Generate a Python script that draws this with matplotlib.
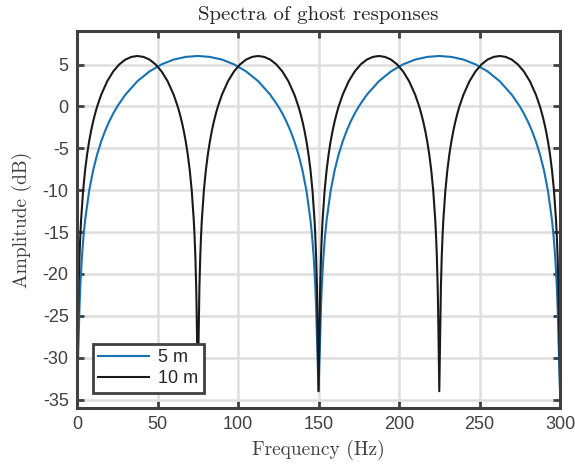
import matplotlib
matplotlib.use("Agg")
import matplotlib.pyplot as plt

# values (dB), 5 m ghost
freq_5m = [0, 1, 1.5, 2, 3, 4, 5, 7.5, 10, 12.5, 15, 17.5, 20, 22.5, 25, 30, 37.5, 45, 52.5, 60, 67.5, 75,
           82.5, 90, 97.5, 105, 112.5, 120, 125, 127.5, 130, 132.5, 135, 137.5, 140, 142.5, 145, 146, 147, 148,
           148.5, 149, 150,
           151, 151.5, 152, 153, 154, 155, 157.5, 160, 162.5, 165, 167.5, 170, 172.5, 175, 180, 187.5, 195,
           202.5, 210, 217.5, 225, 232.5, 240, 247.5, 255, 262.5, 270, 275, 277.5, 280, 282.5, 285, 287.5,
           290, 292.5, 295, 296, 297, 298, 298.5, 299, 300]
amp_5m = [-34, -27.56, -24.04, -21.54, -18.02, -15.53, -13.59, -10.09, -7.62, -5.72, -4.18, -2.89, -1.79, -0.84,
          0.00, 1.40, 3.01, 4.18, 5.02, 5.59, 5.91, 6.02, 5.91, 5.59, 5.02, 4.18, 3.01, 1.40, 0.00, -0.84, -1.79,
          -2.89, -4.18, -5.72, -7.62, -10.09, -13.59, -15.53, -18.02, -21.54, -24.04, -27.56, -34,
          -27.56, -24.04, -21.54, -18.02, -15.53, -13.59, -10.09, -7.62, -5.72, -4.18, -2.89, -1.79, -0.84,
          0.00, 1.40, 3.01, 4.18, 5.02, 5.59, 5.91, 6.02, 5.91, 5.59, 5.02, 4.18, 3.01, 1.40, 0.00, -0.84, -1.79,
          -2.89, -4.18, -5.72, -7.62, -10.09, -13.59, -15.53, -18.02, -21.54, -24.04, -27.56, -34]

# 10 m ghost
freq_10m = [0, 0.5, 0.75, 1, 1.5, 2, 2.5, 3.75, 5, 6.25, 7.5, 8.75, 10, 11.25, 12.5, 15, 18.75, 22.5, 26.25, 30,
            33.75, 37.5, 41.25, 45, 48.75, 52.5, 56.25, 60, 62.5, 63.75, 65, 66.25, 67.5, 68.75, 70, 71.25, 72.5,
            73, 73.5, 74, 74.25, 74.5, 75,
            75.5, 75.75, 76, 76.5, 77, 77.5, 78.75, 80, 81.25, 82.5, 83.75, 85, 86.25, 87.5, 90, 93.75, 97.5,
            101.25, 105, 108.75, 112.5, 116.25, 120, 123.75, 127.5, 131.25, 135, 137.5, 138.75, 140, 141.25,
            142.5, 143.75, 145, 146.25, 147.5, 148, 148.5, 149, 149.25, 149.5, 150,
            150.5, 150.75, 151, 151.5, 152, 152.5, 153.75, 155, 156.25, 157.5, 158.75, 160, 161.25, 162.5, 165,
            168.75, 172.5, 176.25, 180, 183.75, 187.5, 191.25, 195, 198.75, 202.5, 206.25, 210, 212.5, 213.75,
            215, 216.25, 217.5, 218.75, 220, 221.25, 222.5, 223, 223.5, 224, 224.25, 224.5, 225,
            225.5, 225.75, 226, 226.5, 227, 227.5, 228.75, 230, 231.25, 232.5, 233.75, 235, 236.25, 237.5, 240,
            243.75, 247.5, 251.25, 255, 258.75, 262.5, 266.25, 270, 273.75, 277.5, 281.25, 285, 287.5, 288.75,
            290, 291.25, 292.5, 293.75, 295, 296.25, 297.5, 298, 298.5, 299, 299.25, 299.5, 300]
amp_10m = [-34, -27.56, -24.04, -21.54, -18.02, -15.53, -13.59, -10.09, -7.62, -5.72, -4.18, -2.89, -1.79, -0.84,
           0.00, 1.40, 3.01, 4.18, 5.02, 5.59, 5.91, 6.02, 5.91, 5.59, 5.02, 4.18, 3.01, 1.40, 0.00, -0.84, -1.79,
           -2.89, -4.18, -5.72, -7.62, -10.09, -13.59, -15.53, -18.02, -21.54, -24.04, -27.56, -34,
           -27.56, -24.04, -21.54, -18.02, -15.53, -13.59, -10.09, -7.62, -5.72, -4.18, -2.89, -1.79, -0.84,
           0.00, 1.40, 3.01, 4.18, 5.02, 5.59, 5.91, 6.02, 5.91, 5.59, 5.02, 4.18, 3.01, 1.40, 0.00, -0.84, -1.79,
           -2.89, -4.18, -5.72, -7.62, -10.09, -13.59, -15.53, -18.02, -21.54, -24.04, -27.56, -34,
           -27.56, -24.04, -21.54, -18.02, -15.53, -13.59, -10.09, -7.62, -5.72, -4.18, -2.89, -1.79, -0.84,
           0.00, 1.40, 3.01, 4.18, 5.02, 5.59, 5.91, 6.02, 5.91, 5.59, 5.02, 4.18, 3.01, 1.40, 0.00, -0.84, -1.79,
           -2.89, -4.18, -5.72, -7.62, -10.09, -13.59, -15.53, -18.02, -21.54, -24.04, -27.56, -34,
           -27.56, -24.04, -21.54, -18.02, -15.53, -13.59, -10.09, -7.62, -5.72, -4.18, -2.89, -1.79, -0.84,
           0.00, 1.40, 3.01, 4.18, 5.02, 5.59, 5.91, 6.02, 5.91, 5.59, 5.02, 4.18, 3.01, 1.40, 0.00, -0.84, -1.79,
           -2.89, -4.18, -5.72, -7.62, -10.09, -13.59, -15.53, -18.02, -21.54, -24.04, -27.56, -34]

x_ticks = [0, 50, 100, 150, 200, 250, 300]
y_ticks = [-35, -30, -25, -20, -15, -10, -5, 0, 5]
labels = ['5 m', '10 m']

dark = '#404040'
serif = 'cmr10'

fig = plt.figure(figsize=(5.75, 4.7), dpi=100)
ax = fig.add_axes([0.134, 0.132, 0.840, 0.802])

ax.plot(freq_5m, amp_5m, color='#1572b6', lw=1.5, label=labels[0])
ax.plot(freq_10m, amp_10m, color='#1a1a1a', lw=1.5, label=labels[1])

ax.set_xlim(0, 300)
ax.set_ylim(-36, 9)
ax.set_xticks(x_ticks)
ax.set_yticks(y_ticks)
ax.set_yticklabels([str(v) for v in y_ticks])
ax.grid(True, color='#dedede', lw=1.8)
ax.set_axisbelow(True)
ax.tick_params(direction='in', length=5, width=2, color=dark, labelcolor=dark,
               labelsize=13, top=True, right=True, pad=6)
for lab in ax.get_xticklabels() + ax.get_yticklabels():
    lab.set_fontfamily('Liberation Sans')
for s in ax.spines.values():
    s.set_color(dark)
    s.set_linewidth(2.2)

ax.set_title('Spectra of ghost responses', fontfamily=serif, fontsize=15, color='#262626', pad=8)
ax.set_xlabel('Frequency (Hz)', fontfamily=serif, fontsize=14, color=dark, labelpad=5)
ax.set_ylabel('Amplitude (dB)', fontfamily=serif, fontsize=14, color=dark, labelpad=8)

leg = ax.legend(loc='lower left', bbox_to_anchor=(0.033, 0.04), borderaxespad=0,
                fancybox=False, framealpha=1, edgecolor=dark, handlelength=2.8,
                prop={'family': 'Liberation Sans', 'size': 13}, borderpad=0.3,
                labelspacing=0.25, handletextpad=0.5)
leg.get_frame().set_linewidth(2)
for t in leg.get_texts():
    t.set_color('#262626')

fig.savefig('out.png', dpi=100)
